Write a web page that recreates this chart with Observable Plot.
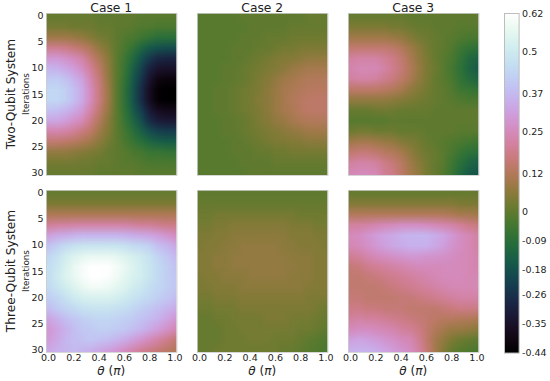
<!DOCTYPE html>
<html><head><meta charset="utf-8">
<script src="https://cdn.jsdelivr.net/npm/d3@7"></script>
<script src="https://cdn.jsdelivr.net/npm/@observablehq/plot@0.6"></script>
<style>
html,body{margin:0;background:#fff;}
#root{position:relative;width:550px;height:381px;overflow:hidden;font-family:"DejaVu Sans",sans-serif;color:#222;}
#root>div,#root>svg{position:absolute;}
.t{white-space:nowrap;line-height:1;}
.rot{transform:translate(-50%,-50%) rotate(-90deg);}
.h{transform:translate(-50%,-50%);}
</style></head><body><div id="root"></div>
<script>
// values in hundredths; 16 rows (iterations 0,2,...,30) by 16 columns (theta index 0,2,...,30)
const twoCase1=[
[1,1,1,1,1,1,0,0,0,0,0,-1,-1,-1,-1,-1],
[3,3,3,2,2,2,1,1,0,0,-1,-2,-2,-3,-3,-3],
[9,9,9,8,7,5,3,2,0,-2,-3,-5,-7,-9,-9,-9],
[19,19,18,16,14,11,7,4,0,-3,-7,-12,-16,-18,-19,-19],
[29,29,27,25,22,16,11,6,0,-5,-11,-18,-24,-28,-29,-29],
[36,35,33,30,26,20,14,7,0,-6,-14,-22,-30,-34,-35,-35],
[41,41,39,35,31,23,16,8,0,-7,-16,-25,-34,-40,-41,-41],
[44,44,42,38,33,25,17,9,0,-8,-17,-27,-37,-43,-44,-44],
[44,44,42,38,33,25,17,9,0,-8,-17,-27,-37,-43,-44,-44],
[39,38,36,33,29,22,15,8,0,-7,-15,-23,-32,-37,-38,-38],
[32,32,30,27,24,18,12,6,0,-6,-12,-19,-27,-31,-32,-32],
[23,23,22,20,17,14,9,5,0,-4,-9,-14,-19,-22,-23,-23],
[15,15,14,13,11,9,6,3,0,-3,-6,-9,-12,-14,-15,-15],
[7,7,7,6,5,4,3,1,0,-1,-3,-4,-6,-6,-7,-7],
[3,3,3,3,2,2,1,1,0,-1,-1,-2,-3,-3,-3,-3],
[1,1,1,1,1,1,0,0,0,0,0,-1,-1,-1,-1,-1]];
const twoCase2=[
[-1,-1,-1,-1,-1,0,0,0,0,0,0,0,0,1,1,1],
[-1,-1,-1,-1,-1,-1,0,0,0,0,0,1,1,1,1,1],
[-1,-1,-1,-1,-1,0,0,0,1,1,1,2,2,2,2,2],
[-1,-1,-1,-1,0,0,0,1,1,2,3,3,4,4,4,4],
[-1,-1,-1,-1,0,0,1,2,3,4,5,5,6,7,7,7],
[-1,-1,-1,0,0,1,2,3,4,5,6,8,9,10,10,10],
[-1,-1,-1,0,0,1,2,4,5,7,9,10,11,12,12,12],
[-1,-1,0,0,1,2,3,4,6,8,10,11,12,13,13,13],
[-1,-1,0,0,1,2,3,5,6,8,10,12,13,14,14,14],
[-1,-1,0,0,1,2,3,4,6,8,10,11,13,14,14,14],
[-1,-1,-1,0,0,1,2,4,5,7,8,10,11,12,12,12],
[-1,-1,-1,0,0,1,2,3,4,5,6,7,8,9,9,9],
[-1,-1,-1,-1,0,0,1,2,3,4,4,5,5,6,6,6],
[-1,-1,-1,-1,0,0,0,1,1,2,2,3,3,3,3,3],
[-1,-1,-1,-1,-1,0,0,0,0,1,1,1,1,1,1,1],
[-1,-1,-1,-1,-1,-1,0,0,0,0,0,0,0,0,0,0]];
const twoCase3=[
[1,1,1,1,1,1,1,0,0,0,0,0,0,0,0,0],
[4,4,4,4,4,3,3,2,1,1,0,0,0,-1,-1,-1],
[9,9,9,9,9,8,7,5,3,2,1,0,-1,-2,-3,-3],
[15,15,15,15,15,14,12,9,6,3,1,0,-2,-5,-7,-8],
[21,22,22,22,20,18,15,11,7,4,1,-1,-3,-7,-11,-13],
[23,24,24,24,22,19,16,12,8,4,2,-1,-4,-8,-12,-15],
[21,22,22,21,19,17,14,11,7,4,1,-1,-3,-7,-10,-12],
[14,14,14,14,13,12,10,7,5,3,1,0,-2,-5,-6,-7],
[7,7,7,7,7,6,5,4,3,2,1,0,-1,-2,-3,-3],
[1,1,1,2,2,2,1,1,1,1,0,0,0,0,0,0],
[-1,-1,-1,-1,-1,0,0,0,0,0,0,0,0,0,0,0],
[2,3,3,2,2,2,1,1,1,0,0,0,0,-1,-1,-1],
[9,10,10,9,8,7,5,4,3,1,0,-1,-2,-3,-4,-5],
[15,16,16,15,13,12,10,7,4,2,1,-1,-3,-6,-8,-9],
[21,22,22,21,18,16,13,9,6,3,1,-1,-5,-9,-12,-14],
[24,25,25,24,20,18,14,10,7,3,1,-2,-6,-11,-15,-17]];
const threeCase1=[
[1,1,1,1,1,1,1,1,1,1,1,1,1,1,1,1],
[4,4,4,4,4,4,4,4,4,4,4,4,4,4,4,4],
[11,11,11,11,11,11,11,11,11,11,11,11,11,11,11,11],
[20,21,21,22,22,22,22,22,22,22,21,20,20,19,18,18],
[31,33,34,35,36,36,36,36,36,35,34,33,32,30,28,26],
[39,42,45,47,48,48,48,48,48,47,45,44,42,38,36,33],
[44,47,51,54,56,57,57,57,56,54,52,50,47,43,40,37],
[46,49,53,57,60,62,62,62,60,57,54,51,48,45,42,39],
[46,50,54,57,60,62,62,61,59,56,53,51,48,45,42,40],
[45,48,51,54,57,59,59,58,56,54,51,49,46,44,42,40],
[42,44,47,50,52,53,53,53,52,50,48,46,44,42,40,38],
[38,41,43,45,47,48,48,48,47,46,44,42,40,38,36,34],
[32,35,38,40,42,43,44,44,43,42,41,39,37,35,32,29],
[29,32,35,38,40,41,42,42,41,40,38,36,33,30,27,24],
[30,33,36,38,39,40,39,38,36,34,31,28,25,22,19,16],
[33,35,36,37,36,35,33,31,29,26,23,20,18,16,14,12]];
const threeCase2=[
[0,0,0,0,0,0,0,0,0,0,0,0,0,0,0,0],
[1,1,1,1,1,1,1,1,1,1,1,1,1,1,1,1],
[2,2,3,3,3,3,3,3,3,3,3,3,2,2,2,2],
[3,3,4,4,5,5,5,5,5,5,5,4,4,4,3,3],
[4,4,5,5,6,6,6,6,6,6,6,5,5,5,4,4],
[4,5,5,6,6,7,7,7,7,7,6,6,5,5,5,4],
[5,5,6,6,7,7,7,7,7,7,7,6,6,6,5,5],
[5,5,6,6,7,7,7,7,7,7,7,7,6,6,5,5],
[4,5,5,6,6,6,7,7,7,7,7,6,6,6,5,5],
[4,4,5,5,5,6,6,6,6,6,6,6,6,5,5,5],
[3,3,4,4,4,5,5,5,5,5,5,5,5,4,4,4],
[2,2,3,3,3,4,4,4,4,4,4,4,4,4,3,2],
[1,1,2,2,3,3,3,3,4,4,4,3,3,3,2,1],
[1,1,1,2,2,3,3,3,3,3,3,3,2,2,1,0],
[1,1,1,2,2,2,3,3,3,2,2,2,1,0,-1,-2],
[1,1,2,2,2,2,2,2,2,2,1,1,0,-1,-2,-3]];
const threeCase3=[
[1,1,1,1,1,1,1,1,1,1,1,1,1,1,1,1],
[5,5,5,5,5,5,5,5,5,5,5,5,5,4,4,4],
[12,12,12,12,12,12,12,12,12,12,12,12,11,10,10,9],
[21,21,22,23,24,25,26,26,26,25,24,23,22,20,18,17],
[25,26,28,30,32,33,35,36,36,36,34,32,29,26,24,22],
[24,25,27,29,31,33,34,35,35,35,33,31,28,26,24,22],
[20,21,23,25,26,27,28,29,29,28,28,27,26,25,24,23],
[16,17,19,20,21,22,23,24,25,25,25,25,25,25,24,23],
[15,15,16,17,18,19,20,21,22,23,24,25,25,25,24,24],
[15,15,15,15,16,17,18,19,20,21,22,23,24,24,24,24],
[16,16,15,15,15,15,16,16,17,18,19,20,21,22,22,22],
[18,18,17,17,16,16,16,15,15,15,15,16,17,18,18,18],
[21,22,21,21,20,19,18,17,16,15,14,13,13,12,12,11],
[25,26,26,25,24,23,21,20,18,15,12,10,8,8,7,6],
[31,32,31,30,28,27,25,24,20,15,10,7,4,2,1,0],
[35,35,35,34,32,30,28,26,22,16,10,5,1,-1,-2,-3]];
const caseTitles=["Case 1","Case 2","Case 3"];
const rowTitles=["Two-Qubit System","Three-Qubit System"];
const thetaTicks=[0,0.2,0.4,0.6,0.8,1];
const iterTicks=[0,5,10,15,20,25,30];
const barTicks=[0.62,0.5,0.37,0.25,0.12,0,-0.09,-0.18,-0.26,-0.35,-0.44];
const grids=[[twoCase1,twoCase2,twoCase3],[threeCase1,threeCase2,threeCase3]];

const root=document.getElementById("root");
const color={type:"linear",domain:[-0.44,0.62],interpolate:d3.interpolateCubehelixDefault,clamp:true};
const style={background:"transparent",fontFamily:"DejaVu Sans",fontSize:"9.5px",color:"#222",overflow:"visible"};
const colX=[46,197,348], rowY=[13,190.3];
const W=130.5,H=162,ML=24,MT=2,MB=16,MR=8;

function text(html,x,y,size,cls){
  const d=document.createElement("div");
  d.className="t "+cls; d.innerHTML=html;
  d.style.left=x+"px"; d.style.top=y+"px"; d.style.fontSize=size+"px";
  root.appendChild(d);
}
grids.forEach((row,r)=>row.forEach((g,c)=>{
  const p=Plot.plot({
    width:W+ML+MR,height:H+MT+MB,marginLeft:ML,marginRight:MR,marginTop:MT,marginBottom:MB,
    style,color,
    x:{domain:[-1/60,61/60]},
    y:{domain:[30.5,-0.5]},
    marks:[
      Plot.raster(g.flat().map(v=>v/100),{width:16,height:16,x1:-1/30,x2:31/30,y1:-1,y2:31,clip:true}),
      Plot.frame({stroke:"#cccccc",strokeWidth:0.8}),
      r===1?Plot.axisX({ticks:thetaTicks,tickSize:0,tickPadding:2,tickFormat:".1f",label:null}):Plot.axisX({ticks:[],label:null}),
      c===0?Plot.axisY({ticks:iterTicks,tickSize:0,tickPadding:3,label:null}):Plot.axisY({ticks:[],label:null})
    ]
  });
  p.style.left=(colX[c]-ML)+"px"; p.style.top=(rowY[r]-MT)+"px";
  root.appendChild(p);
}));
const bar=Plot.plot({
  width:14.6+2+32,height:339.6+4+4,marginLeft:2,marginRight:32,marginTop:4,marginBottom:4,
  style,color,
  x:{domain:[0,1]},
  y:{domain:[-0.44,0.62]},
  marks:[
    Plot.raster({x1:0,x2:1,y1:-0.44,y2:0.62,pixelSize:1,fill:(x,y)=>y}),
    Plot.frame({stroke:"#bdbdbd",strokeWidth:1}),
    Plot.axisX({ticks:[],label:null}),
    Plot.axisY({anchor:"right",ticks:barTicks,tickSize:0,tickPadding:3,tickFormat:d=>String(d),label:null})
  ]
});
bar.style.left="501.7px"; bar.style.top="8.7px";
root.appendChild(bar);
caseTitles.forEach((t,c)=>text(t,colX[c]+W/2,7.5,12.3,"h"));
rowTitles.forEach((t,r)=>{
  text(t,11,rowY[r]+81,12.2,"rot");
  text("Iterations",25.5,rowY[r]+81,8.8,"rot");
});
colX.forEach(x=>text('<i>θ</i> (<i>π</i>)',x+W/2,371,12,"h"));
</script></body></html>
